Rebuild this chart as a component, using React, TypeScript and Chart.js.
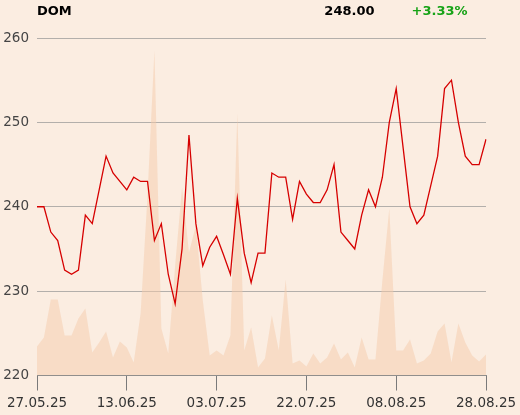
import React, { useEffect, useRef } from "react";
import { Chart, registerables } from "chart.js";

Chart.register(...registerables);

const ticker = "DOM";
const lastPrice = "248.00";
const change = "+3.33%";

const dates = [
  "27.05.25", "28.05.25", "29.05.25", "30.05.25",
  "02.06.25", "03.06.25", "04.06.25", "05.06.25", "06.06.25",
  "09.06.25", "10.06.25", "11.06.25", "12.06.25", "13.06.25",
  "16.06.25", "17.06.25", "18.06.25", "20.06.25",
  "23.06.25", "24.06.25", "25.06.25", "26.06.25", "27.06.25",
  "30.06.25", "01.07.25", "02.07.25", "03.07.25", "04.07.25",
  "07.07.25", "08.07.25", "09.07.25", "10.07.25", "11.07.25",
  "14.07.25", "15.07.25", "16.07.25", "17.07.25", "18.07.25",
  "21.07.25", "22.07.25", "23.07.25", "24.07.25", "25.07.25",
  "28.07.25", "29.07.25", "30.07.25", "31.07.25", "01.08.25",
  "04.08.25", "05.08.25", "06.08.25", "07.08.25", "08.08.25",
  "11.08.25", "12.08.25", "13.08.25", "14.08.25",
  "18.08.25", "19.08.25", "20.08.25", "21.08.25", "22.08.25",
  "25.08.25", "26.08.25", "27.08.25", "28.08.25",
];

const tickIndices = [0, 13, 26, 39, 52, 65];

const prices = [
  240, 240, 237, 236, 232.5, 232, 232.5, 239, 238, 242,
  246, 244, 243, 242, 243.5, 243, 243, 236, 238, 232,
  228.5, 235, 248.5, 238, 233, 235.2, 236.5, 234.3, 232, 241,
  234.5, 231, 234.5, 234.5, 244, 243.5, 243.5, 238.5, 243, 241.5,
  240.5, 240.5, 242, 245, 237, 236, 235, 239, 242, 240,
  243.5, 250, 254, 247, 240, 238, 239, 242.5, 246, 254,
  255, 250, 246, 245, 245, 248,
];

const volumes = [
  29, 38, 76, 76, 40, 40, 57, 67, 23, 33,
  44, 18, 34, 28, 13, 62, 180, 325, 47, 22,
  110, 188, 123, 150, 75, 20, 25, 20, 40, 262,
  25, 48, 8, 17, 60, 25, 96, 12, 15, 9,
  22, 12, 18, 32, 16, 23, 8, 38, 16, 16,
  95, 167, 25, 25, 36, 12, 15, 22, 44, 52,
  13, 52, 33, 20, 14, 21,
];

const priceMin = 220;
const priceMax = 260;
const priceStep = 10;
const volumeAxisMax = 337.5;

const BG = "#FBEDE1";

const bgPlugin = {
  id: "bgFill",
  beforeDraw(chart: any) {
    const ctx = chart.ctx;
    ctx.save();
    ctx.fillStyle = BG;
    ctx.fillRect(0, 0, chart.width, chart.height);
    ctx.restore();
  },
};

const headerPlugin = {
  id: "header",
  afterDraw(chart: any) {
    const ctx = chart.ctx;
    ctx.save();
    ctx.font = 'bold 13px "DejaVu Sans"';
    ctx.textBaseline = "alphabetic";
    ctx.fillStyle = "#000";
    ctx.textAlign = "left";
    ctx.fillText(ticker, 37, 14.5);
    ctx.textAlign = "right";
    ctx.fillText(lastPrice, 374.5, 14.5);
    ctx.textAlign = "left";
    ctx.fillStyle = "#17A317";
    ctx.fillText(change, 411.5, 14.5);
    ctx.restore();
  },
};

export default function App() {
  const ref = useRef<HTMLCanvasElement | null>(null);

  useEffect(() => {
    document.body.style.margin = "0";
    document.body.style.background = BG;
    const canvas = ref.current;
    if (!canvas) return;
    const chart = new Chart(canvas, {
      type: "line",
      data: {
        labels: dates,
        datasets: [
          {
            label: "Price",
            data: prices,
            yAxisID: "y",
            borderColor: "#D60000",
            borderWidth: 1.3,
            pointRadius: 0,
            tension: 0,
            fill: false,
            order: 0,
          },
          {
            label: "Volume",
            data: volumes,
            yAxisID: "yVol",
            borderWidth: 0,
            borderColor: "rgba(0,0,0,0)",
            backgroundColor: "rgba(245,203,172,0.5)",
            pointRadius: 0,
            tension: 0,
            fill: "origin",
            order: 1,
          },
        ],
      },
      options: {
        responsive: false,
        animation: false,
        events: [],
        layout: { padding: { top: 38, right: 34, left: 0, bottom: 0 } },
        plugins: {
          legend: { display: false },
          tooltip: { enabled: false },
          title: { display: false },
        },
        scales: {
          x: {
            type: "category",
            offset: false,
            afterFit(scale: any) {
              scale.height = 39.5;
              scale.paddingLeft = 0;
              scale.paddingRight = 0;
            },
            grid: {
              drawOnChartArea: false,
              drawTicks: true,
              tickLength: 15,
              color: "#7a7a7a",
              lineWidth: 1,
            },
            border: { display: true, color: "#8a8a8a", width: 1 },
            ticks: {
              autoSkip: false,
              maxRotation: 0,
              minRotation: 0,
              padding: 5,
              color: "#333",
              font: { family: '"DejaVu Sans"', size: 13.5 },
              callback: (_v: any, i: number) =>
                tickIndices.includes(i) ? dates[i] : null,
            },
          },
          y: {
            min: priceMin,
            max: priceMax,
            afterFit(scale: any) {
              scale.width = 37;
              scale.paddingTop = 0;
              scale.paddingBottom = 0;
            },
            grid: {
              drawTicks: false,
              color: "#B3AFAB",
              lineWidth: 1,
            },
            border: { display: false },
            ticks: {
              stepSize: priceStep,
              padding: 8,
              color: "#444",
              font: { family: '"DejaVu Sans"', size: 13.5 },
            },
          },
          yVol: {
            display: false,
            min: 0,
            max: volumeAxisMax,
          },
        },
      },
      plugins: [bgPlugin, headerPlugin],
    });
    return () => chart.destroy();
  }, []);

  return (
    <div style={{ position: "absolute", left: 0, top: 0, width: 520, height: 415 }}>
      <canvas ref={ref} width={520} height={415} style={{ width: 520, height: 415 }} />
    </div>
  );
}
